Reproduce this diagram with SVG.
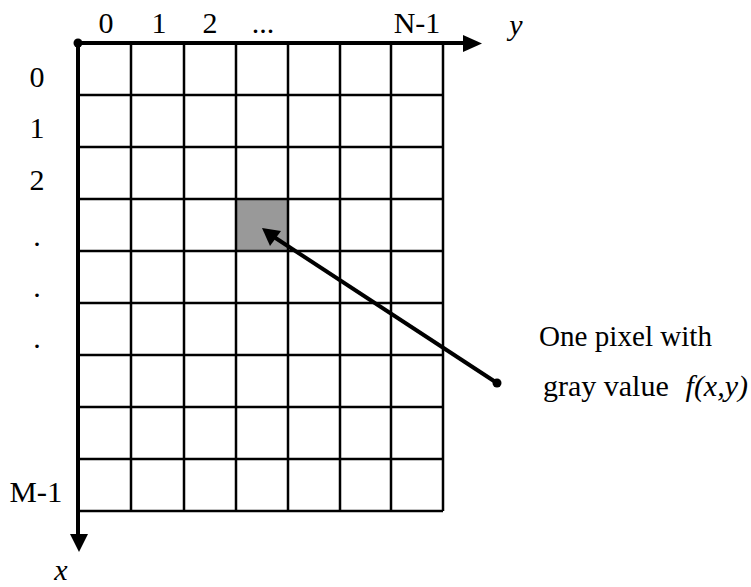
<svg xmlns="http://www.w3.org/2000/svg" width="751" height="587" viewBox="0 0 751 587">
<style>
.grid{stroke:#000;stroke-width:2.5;fill:none}
.axis{stroke:#000;stroke-width:4;fill:none}
.lbl{font-family:'Liberation Serif','Times New Roman',serif;font-size:30px;fill:#000}
.it{font-style:italic}
</style>
<rect width="751" height="587" fill="#fff"/>
<g id="pixel"><rect x="236" y="199" width="52" height="52" fill="#999"/></g>
<g id="grid" class="grid">
<path d="M131,43V511M184,43V511M236,43V511M288,43V511M340,43V511M391,43V511M443,43V511"/>
<path d="M78,95H443M78,147H443M78,199H443M78,251H443M78,303H443M78,355H443M78,407H443M78,459H443M78,511H443"/>
</g>
<g id="connectors">
<path class="axis" d="M78,43H465"/>
<polygon points="463,35 482,43.5 463,52" fill="#000"/>
<path class="axis" d="M78,43V536"/>
<polygon points="70,534 79,552 88,534" fill="#000"/>
<circle cx="78" cy="43" r="4.5" fill="#000"/>
<path class="axis" d="M497,383L274,237"/>
<polygon points="262,228 281,231 270,246" fill="#000"/>
<circle cx="497" cy="383" r="4.5" fill="#000"/>
</g>
<g id="top-labels" class="lbl" font-family="Liberation Serif, serif" text-anchor="middle">
<text x="106" y="33">0</text>
<text x="159" y="33">1</text>
<text x="210" y="33">2</text>
<text x="263" y="33">...</text>
<text x="417" y="33">N-1</text>
</g>
<text class="lbl it" font-family="Liberation Serif, serif" x="516" y="35" text-anchor="middle">y</text>
<g id="left-labels" class="lbl" font-family="Liberation Serif, serif" text-anchor="middle">
<text x="37" y="87">0</text>
<text x="37" y="138">1</text>
<text x="37" y="190">2</text>
<text x="37" y="246">.</text>
<text x="37" y="297">.</text>
<text x="37" y="348">.</text>
<text x="36" y="502" textLength="53" lengthAdjust="spacingAndGlyphs">M-1</text>
</g>
<text class="lbl it" font-family="Liberation Serif, serif" x="61" y="580" text-anchor="middle">x</text>
<g id="label" class="lbl" font-family="Liberation Serif, serif">
<text x="539" y="346" textLength="173" lengthAdjust="spacingAndGlyphs">One pixel with</text>
<text x="543" y="396">gray value</text>
<text class="it" x="748" y="396" text-anchor="end">f(x,y)</text>
</g>
</svg>
